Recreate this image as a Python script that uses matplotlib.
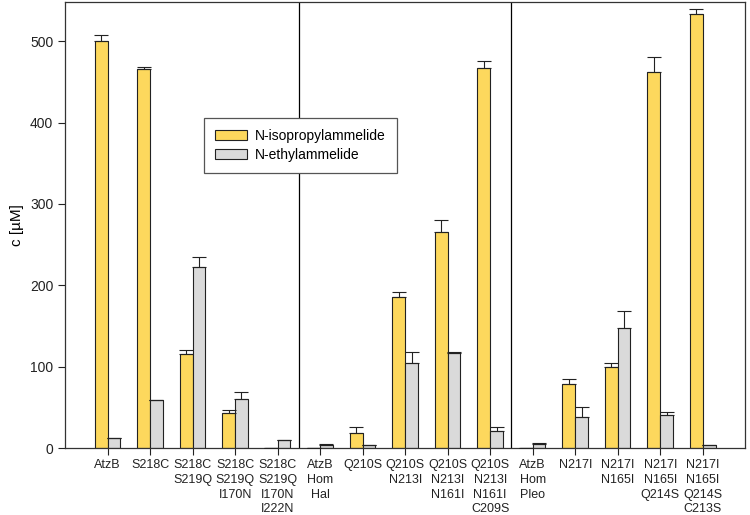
import numpy as np
import matplotlib
matplotlib.use('Agg')
import matplotlib.pyplot as plt

plt.rcParams['font.family'] = ['Liberation Sans', 'DejaVu Sans']

# mutant labels
labels = ['AtzB', 'S218C', 'S218C\nS219Q', 'S218C\nS219Q\nI170N', 'S218C\nS219Q\nI170N\nI222N',
          'AtzB\nHom\nHal', 'Q210S', 'Q210S\nN213I', 'Q210S\nN213I\nN161I', 'Q210S\nN213I\nN161I\nC209S',
          'AtzB\nHom\nPleo', 'N217I', 'N217I\nN165I', 'N217I\nN165I\nQ214S', 'N217I\nN165I\nQ214S\nC213S']

iso_vals = [500, 466, 115, 43, 0, 0, 18, 185, 265, 467, 0, 79, 99, 462, 533]
iso_err = [7, 2, 5, 4, 0, 0, 8, 7, 15, 8, 0, 6, 6, 18, 6]
eth_vals = [12, 59, 222, 60, 10, 4, 4, 104, 117, 21, 5, 38, 147, 40, 4]
eth_err = [0, 0, 13, 9, 0, 1, 0, 14, 1, 5, 1, 13, 21, 4, 0]

x = np.arange(len(labels))
w = 0.3

fig = plt.figure(figsize=(7.5, 5.15), dpi=100)
ax = fig.add_axes([0.0867, 0.130, 0.907, 0.866])

ax.bar(x - w / 2, iso_vals, w, color='#FDD85D', edgecolor='#222222', linewidth=0.8,
       label='N-isopropylammelide', zorder=2)
ax.bar(x + w / 2, eth_vals, w, color='#DADADA', edgecolor='#222222', linewidth=0.8,
       label='N-ethylammelide', zorder=2)

# only upper error bars
ax.errorbar(x - w / 2, iso_vals, yerr=[np.zeros(len(x)), iso_err], fmt='none',
            ecolor='#222222', elinewidth=0.8, capsize=5, capthick=0.8, zorder=3)
ax.errorbar(x + w / 2, eth_vals, yerr=[np.zeros(len(x)), eth_err], fmt='none',
            ecolor='#222222', elinewidth=0.8, capsize=5, capthick=0.8, zorder=3)

# group separators
for xv in [4.5, 9.5]:
    ax.axvline(xv, color='black', linewidth=0.9, zorder=1)

ax.set_xlim(-1, 15)
ax.set_ylim(0, 548)
ax.set_yticks([0, 100, 200, 300, 400, 500])
ax.set_xticks(x)
ax.set_xticklabels(labels, fontsize=9, linespacing=1.3, va='top')
ax.tick_params(axis='both', direction='out', length=5, width=0.8, colors='#222222')
ax.tick_params(axis='y', labelsize=10)
ax.tick_params(axis='x', pad=3)
ax.set_ylabel('c [µM]', fontsize=11)

for s in ax.spines.values():
    s.set_linewidth(0.9)
    s.set_color('#333333')

leg = ax.legend(loc='upper left', bbox_to_anchor=(0.204, 0.740), borderaxespad=0,
                fontsize=10, frameon=True, fancybox=False, edgecolor='#555555',
                borderpad=0.8, labelspacing=0.35, handlelength=2.3, handleheight=0.75,
                handletextpad=0.6)
leg.get_frame().set_linewidth(0.9)
leg.get_frame().set_alpha(1)

fig.savefig('out.png', dpi=100)
